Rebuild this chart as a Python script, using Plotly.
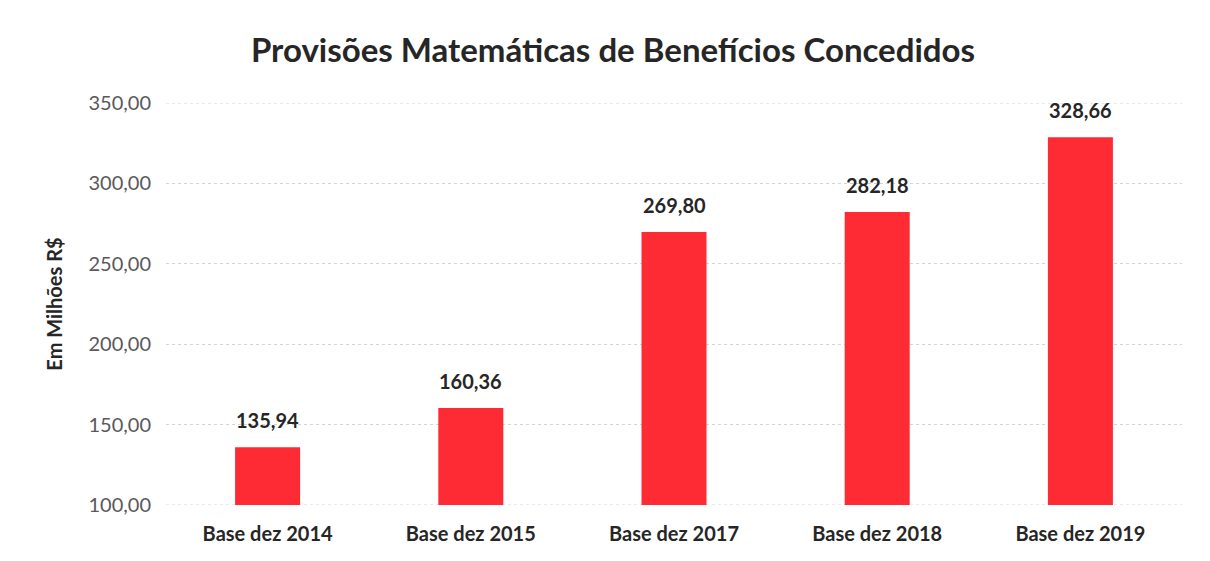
import plotly.graph_objects as go

categories = ["Base dez 2014", "Base dez 2015", "Base dez 2017", "Base dez 2018", "Base dez 2019"]
values = [135.94, 160.36, 269.80, 282.18, 328.66]
labels = ["135,94", "160,36", "269,80", "282,18", "328,66"]
tick_vals = [100, 150, 200, 250, 300, 350]
tick_text = ["100,00", "150,00", "200,00", "250,00", "300,00", "350,00"]

FONT = "Lato, Open Sans, sans-serif"
GRID = "#d4d4d4"

fig = go.Figure(go.Bar(
    x=categories, y=values,
    marker=dict(color="#fe2b35", line=dict(width=0)),
    width=0.32, hoverinfo="x+y",
))

for c, v, t in zip(categories, values, labels):
    fig.add_annotation(x=c, y=v, text=t, showarrow=False, yanchor="bottom", yshift=13,
                       font=dict(family=FONT, size=20, color="#262626", weight="bold"))

# edge gridlines (top and bottom of the value range)
for yv in (tick_vals[0], tick_vals[-1]):
    fig.add_shape(type="line", xref="paper", yref="y", x0=0, x1=1, y0=yv, y1=yv,
                  line=dict(color=GRID, width=1, dash="dot"), layer="below")

fig.update_layout(
    width=1210, height=561,
    paper_bgcolor="white", plot_bgcolor="white",
    margin=dict(l=158, r=36, t=95, b=64),
    title=dict(text="Provisões Matemáticas de Benefícios Concedidos",
               x=0.5, xanchor="center", y=1 - 42 / 561, yanchor="middle",
               font=dict(family=FONT, size=33, color="#262626", weight="bold")),
    showlegend=False,
    xaxis=dict(tickfont=dict(family=FONT, size=20, color="#262626", weight="bold"),
               showgrid=False, showline=False, ticks="", ticklabelstandoff=15),
    yaxis=dict(range=[100, 350], tickvals=tick_vals, ticktext=tick_text,
               tickfont=dict(family=FONT, size=20, color="#595959"),
               showgrid=True, gridcolor=GRID, griddash="dot", gridwidth=1,
               zeroline=False, showline=False, ticks="", ticklen=0, ticklabelstandoff=14,
               title=dict(text="Em Milhões R$", standoff=20,
                          font=dict(family=FONT, size=20, color="#262626", weight="bold"))),
)

fig.write_html("out.html")
